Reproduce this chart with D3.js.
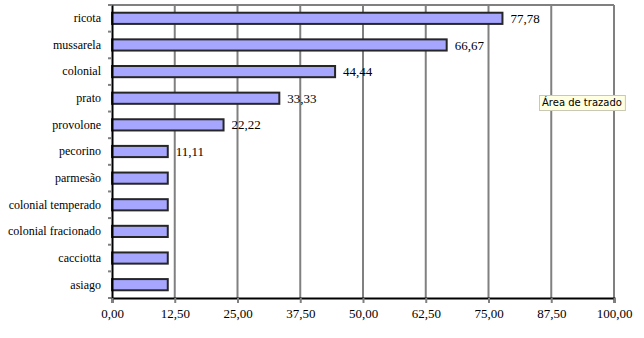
<!DOCTYPE html>
<html><head><meta charset="utf-8">
<script src="https://cdn.jsdelivr.net/npm/d3@7"></script>
<style>
html,body{margin:0;padding:0;background:#fff;}
</style>
</head><body>
<svg id="chart" width="644" height="338"></svg>
<script>
const categories = ["ricota","mussarela","colonial","prato","provolone","pecorino","parmesão","colonial temperado","colonial fracionado","cacciotta","asiago"];
const values = [77.78, 66.67, 44.44, 33.33, 22.22, 11.11, 11.11, 11.11, 11.11, 11.11, 11.11];
const shownLabels = ["77,78","66,67","44,44","33,33","22,22","11,11","","","","",""];
const xTicks = [0, 12.5, 25, 37.5, 50, 62.5, 75, 87.5, 100];

(function () {
const svg = d3.select("#chart");
const pL = 112, pR = 614, pT = 5, pB = 298;
const x = d3.scaleLinear().domain([0, 100]).range([pL, pR]);
const y = d3.scaleBand().domain(categories).range([pT, pB]).paddingInner(0.58).paddingOuter(0.29);
const serif = (sel, size) => sel.style("font-family", '"Liberation Serif"').style("font-size", size + "px").attr("fill", "#000");

// gridlines
svg.append("g").selectAll("line").data(xTicks.slice(1)).join("line")
  .attr("x1", d => x(d)).attr("x2", d => x(d))
  .attr("y1", pT).attr("y2", pB)
  .attr("stroke", "#808080").attr("stroke-width", 2);
// top border
svg.append("line").attr("x1", pL).attr("x2", pR).attr("y1", pT).attr("y2", pT)
  .attr("stroke", "#808080").attr("stroke-width", 2);

// bars
svg.append("g").selectAll("rect").data(values).join("rect")
  .attr("x", x(0))
  .attr("y", (d, i) => y(categories[i]))
  .attr("width", d => x(d) - x(0))
  .attr("height", y.bandwidth())
  .attr("fill", "#A6A6FF")
  .attr("stroke", "#262626").attr("stroke-width", 2);

// value labels
svg.append("g").selectAll("text").data(values).join("text")
  .attr("x", d => x(d) + 8)
  .attr("y", (d, i) => y(categories[i]) + y.bandwidth() / 2)
  .attr("dy", "0.35em")
  .call(serif, 13)
  .text((d, i) => shownLabels[i]);

// y axis
const yAxis = d3.axisLeft(y).tickSize(0).tickPadding(11);
const gy = svg.append("g").attr("transform", `translate(${pL},0)`).call(yAxis);
gy.select(".domain").attr("stroke", "#000").attr("stroke-width", 2);
gy.selectAll("text").call(serif, 12);
// category separator ticks
const sepData = d3.range(categories.length + 1);
svg.append("g").selectAll("line").data(sepData).join("line")
  .attr("x1", pL - 4).attr("x2", pL)
  .attr("y1", d => pT + d * (pB - pT) / categories.length)
  .attr("y2", d => pT + d * (pB - pT) / categories.length)
  .attr("stroke", "#808080").attr("stroke-width", 2);

// x axis
const xAxis = d3.axisBottom(x).tickValues(xTicks).tickSize(5).tickPadding(6)
  .tickFormat(d => d3.format(".2f")(d).replace(".", ","));
const gx = svg.append("g").attr("transform", `translate(0,${pB})`).call(xAxis);
gx.select(".domain").attr("stroke", "#000").attr("stroke-width", 2);
gx.selectAll(".tick line").attr("stroke", "#808080").attr("stroke-width", 2);
gx.selectAll("text").call(serif, 13);

// tooltip
const tip = svg.append("g").attr("transform", "translate(539,95)");
const tipText = tip.append("text").attr("x", 3).attr("y", 11)
  .style("font-family", '"DejaVu Sans"').style("font-size", "10px").attr("fill", "#000")
  .text("Área de trazado");
const bb = tipText.node().getBBox();
tip.insert("rect", "text").attr("x", 0.5).attr("y", 0.5)
  .attr("width", bb.width + 6).attr("height", 15)
  .attr("fill", "#FFFFE1").attr("stroke", "#C8C8B4").attr("stroke-width", 1);
})();
</script>
</body></html>
